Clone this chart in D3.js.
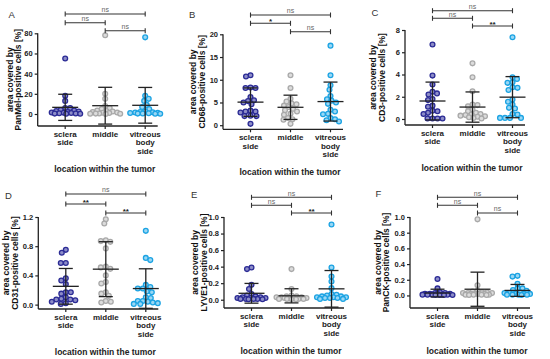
<!DOCTYPE html>
<html><head><meta charset="utf-8">
<script src="https://cdn.jsdelivr.net/npm/d3@7"></script>
<style>
body{margin:0;background:#fff}
svg{display:block}
text{font-family:"Liberation Sans",Arial,sans-serif}
</style>
</head><body>
<svg id="c" width="550" height="359"></svg>
<script>
// ---------- DATA ----------
const categories = ["sclera side", "middle", "vitreous body side"];
const categoryLines = [["sclera", "side"], ["middle"], ["vitreous", "body", "side"]];
const panelLetters = ["A", "B", "C", "D", "E", "F"];
const markerNames = ["PanMel", "CD68", "CD3", "CD31", "LYVE1", "PanCK"];
const xTitle = "location within the tumor";

const ticksA = [0, 20, 40, 60, 80];
const ticksB = [0, 5, 10, 15, 20];
const ticksC = [0, 2, 4, 6, 8];
const ticksD = [0, 0.4, 0.8, 1.2];
const ticksE = [0, 0.2, 0.4, 0.6, 0.8, 1.0];
const ticksF = [0, 0.2, 0.4, 0.6, 0.8, 1.0];

// values: [sclera side, middle, vitreous body side]
const panMel = [
  [55, 18, 13, 6, 6, 4, 3.5, 3, 2.5, 2, 1.5, 1.2, 1, 0.8, 0.5, 0.4, 0.3, 0.2],
  [78, 20, 15, 8, 6, 5, 3.5, 3, 2.5, 2, 1.5, 1.2, 1, 0.5, 0.4, 0.3, 0.2, 0.1],
  [76, 18, 15, 13, 9, 7, 5, 2.5, 2, 1.8, 1.5, 1.2, 1, 0.8, 0.5, 0.4, 0.3, 0.2]
];
const cd68 = [
  [11.0, 10.7, 8.3, 8.2, 8.2, 6.2, 5.5, 5.3, 5.0, 4.6, 3.2, 3.0, 3.0, 2.8, 2.1, 2.0, 2.0, 0.3],
  [11.0, 8.2, 5.8, 5.2, 4.8, 4.6, 4.3, 4.0, 3.6, 3.3, 3.0, 2.5, 2.3, 1.6, 1.3, 1.2, 0.3],
  [17.5, 11.0, 8.8, 7.8, 6.4, 5.7, 5.4, 5.0, 4.7, 3.4, 3.0, 2.5, 2.4, 1.6, 1.3, 1.1, 0.8]
];
const cd3 = [
  [6.7, 3.9, 3.1, 2.45, 2.3, 2.2, 1.8, 1.7, 1.2, 1.1, 0.75, 0.7, 0.55, 0.45, 0.05, 0.05, 0.05, 0.05],
  [5.0, 3.75, 2.5, 1.3, 1.25, 1.15, 0.85, 0.7, 0.55, 0.45, 0.4, 0.35, 0.3, 0.25, 0.2, 0.15, 0.1, 0.05],
  [7.35, 3.75, 3.6, 3.3, 3.25, 2.85, 2.8, 2.6, 1.75, 1.55, 1.3, 1.0, 0.95, 0.45, 0.4, 0.1, 0.1, 0.1, 0.1]
];
const cd31 = [
  [0.75, 0.71, 0.57, 0.57, 0.36, 0.33, 0.28, 0.17, 0.17, 0.15, 0.10, 0.08, 0.07, 0.07, 0.06, 0.04, 0.02, 0.01],
  [1.17, 1.11, 0.88, 0.87, 0.86, 0.77, 0.52, 0.51, 0.49, 0.40, 0.31, 0.29, 0.17, 0.15, 0.12, 0.05, 0.04, 0.03],
  [1.01, 0.64, 0.61, 0.27, 0.24, 0.22, 0.22, 0.18, 0.17, 0.10, 0.09, 0.05, 0.05, 0.04, 0.03, 0.02, 0.01, 0.01]
];
const lyve1 = [
  [0.39, 0.37, 0.18, 0.13, 0.07, 0.05, 0.04, 0.03, 0.03, 0.02, 0.02, 0.02, 0.01, 0.01, 0.01, 0.01, 0.005, 0.005],
  [0.37, 0.13, 0.05, 0.04, 0.04, 0.03, 0.03, 0.03, 0.02, 0.02, 0.02, 0.02, 0.01, 0.01, 0.01, 0.01, 0.005, 0.005],
  [0.91, 0.39, 0.28, 0.22, 0.14, 0.07, 0.06, 0.05, 0.04, 0.04, 0.03, 0.03, 0.03, 0.02, 0.02, 0.02, 0.01, 0.01]
];
const panCK = [
  [0.21, 0.09, 0.04, 0.03, 0.03, 0.02, 0.02, 0.02, 0.02, 0.01, 0.01, 0.01, 0.01, 0.01, 0.005, 0.005, 0.005, 0.005],
  [0.97, 0.13, 0.06, 0.05, 0.04, 0.04, 0.03, 0.03, 0.03, 0.02, 0.02, 0.02, 0.02, 0.01, 0.01, 0.01, 0.01, 0.005, 0.005],
  [0.25, 0.24, 0.15, 0.09, 0.09, 0.07, 0.06, 0.04, 0.03, 0.03, 0.02, 0.02, 0.02, 0.01, 0.01, 0.01, 0.01, 0.005]
];
// significance: [sclera–vitreous, sclera–middle, middle–vitreous]
const sigA = ["ns", "ns", "ns"];
const sigB = ["ns", "*", "ns"];
const sigC = ["ns", "ns", "**"];
const sigD = ["ns", "**", "**"];
const sigE = ["ns", "ns", "**"];
const sigF = ["ns", "ns", "ns"];

// ---------- LAYOUT / STYLE ----------
const strokeCol = ["#2b2b95", "#a9a9a9", "#1ba3e3"];
const fillCol = ["#8d8dc8", "#dcdcdc", "#9ad7f4"];

const panels = [
  {vals: panMel, ticks: ticksA, sig: sigA, fmt: d3.format("d"),
   left: 37.7, top: 33.3, bottom: 126, yMin: -11.9, yMax: 80, br: [14, 22.7, 30.7], letter: [8.5, 17.5], yt: [-24.8, -16.3]},
  {vals: cd68, ticks: ticksB, sig: sigB, fmt: d3.format("d"),
   left: 223, top: 34.3, bottom: 129.3, yMin: -0.9, yMax: 20, br: [15, 23.3, 31.7], letter: [189, 17.5], yt: [-27, -17.7]},
  {vals: cd3, ticks: ticksC, sig: sigC, fmt: d3.format("d"),
   left: 405, top: 30, bottom: 125, yMin: -0.54, yMax: 8, br: [10.7, 18.3, 26], letter: [371.5, 16], yt: [-29.5, -20.5]},
  {vals: cd31, ticks: ticksD, sig: sigD, fmt: d3.format(".1f"),
   left: 38.3, top: 217, bottom: 309, yMin: -0.06, yMax: 1.2, br: [194, 204, 213], letter: [5, 198.5], yt: [-29, -20]},
  {vals: lyve1, ticks: ticksE, sig: sigE, fmt: d3.format(".1f"),
   left: 224, top: 217, bottom: 308, yMin: -0.1, yMax: 1.0, br: [197.3, 205.3, 213], letter: [191, 198], yt: [-26, -17]},
  {vals: panCK, ticks: ticksF, sig: sigF, fmt: d3.format(".1f"),
   left: 410, top: 217, bottom: 308, yMin: -0.16, yMax: 1.0, br: [197.3, 205.3, 213], letter: [375.5, 196.5], yt: [-29, -21]}
];

const svg = d3.select("#c");

// simple beeswarm with a limited half-width; overlap allowed when no free slot
function swarm(vals, y, minD, maxW) {
  const pts = vals.map(v => ({v, py: y(v)})).sort((a, b) => a.py - b.py);
  const placed = [];
  const cands = [0];
  for (let k = 1; k * 0.5 <= maxW; k++) cands.push(k * 0.5, -k * 0.5);
  pts.forEach((p, i) => {
    let chosen = null, bestScore = -1, bestO = 0;
    for (const o0 of cands) {
      const o = (i % 2) ? -o0 : o0;
      let md = Infinity;
      for (const q of placed) {
        const d = Math.hypot(q.ox - o, q.py - p.py);
        if (d < md) md = d;
      }
      if (md >= minD) { chosen = o; break; }
      if (md > bestScore + 0.05) { bestScore = md; bestO = o; }
    }
    p.ox = chosen !== null ? chosen : bestO;
    placed.push(p);
  });
  return pts;
}

panels.forEach((P, pi) => {
  const g = svg.append("g");
  const W = 120;
  const x = d3.scalePoint().domain(categories).range([P.left + 27.5, P.left + 107.5]);
  const y = d3.scaleLinear().domain([P.yMin, P.yMax]).range([P.bottom, P.top]);

  // y axis
  const ya = d3.axisLeft(y).tickValues(P.ticks).tickFormat(P.fmt).tickSize(3).tickPadding(2);
  const yg = g.append("g").attr("transform", `translate(${P.left},0)`).call(ya);
  yg.select(".domain").remove();
  yg.selectAll(".tick line").attr("stroke", "#222").attr("stroke-width", 1.2);
  yg.selectAll(".tick text").attr("font-size", 7.5).attr("font-weight", "bold").attr("fill", "#222")
    .attr("font-family", '"Liberation Sans",Arial,sans-serif');
  g.append("line").attr("x1", P.left).attr("x2", P.left).attr("y1", y(P.yMax)).attr("y2", P.bottom)
    .attr("stroke", "#222").attr("stroke-width", 1.3);

  // x axis
  g.append("line").attr("x1", P.left).attr("x2", P.left + W).attr("y1", P.bottom).attr("y2", P.bottom)
    .attr("stroke", "#222").attr("stroke-width", 1.3);
  categories.forEach((c, ci) => {
    const cx = x(c);
    g.append("line").attr("x1", cx).attr("x2", cx).attr("y1", P.bottom).attr("y2", P.bottom + 3)
      .attr("stroke", "#222").attr("stroke-width", 1.2);
    categoryLines[ci].forEach((ln, li) => {
      g.append("text").attr("x", cx).attr("y", P.bottom + 11 + li * 8.3).attr("text-anchor", "middle")
        .attr("font-size", 8).attr("font-weight", "bold").attr("fill", "#222").text(ln);
    });
  });
  g.append("text").attr("x", P.left + 67).attr("y", P.bottom + 46).attr("text-anchor", "middle")
    .attr("font-size", 8.5).attr("font-weight", "bold").attr("fill", "#222").text(xTitle);

  // y title
  const yc = (P.top + P.bottom) / 2;
  const ylines = ["area covered by", markerNames[pi] + "-positive cells [%]"];
  ylines.forEach((ln, li) => {
    const tx = P.left + P.yt[li];
    g.append("text").attr("transform", `translate(${tx},${yc}) rotate(-90)`).attr("text-anchor", "middle")
      .attr("font-size", 8.5).attr("font-weight", "bold").attr("fill", "#111").text(ln);
  });

  // panel letter
  g.append("text").attr("x", P.letter[0]).attr("y", P.letter[1]).attr("font-size", 9.5).attr("fill", "#333")
    .text(panelLetters[pi]);

  // points
  P.vals.forEach((vals, ci) => {
    const cx = x(categories[ci]);
    const pts = swarm(vals, y, 4.6, 15);
    g.append("g").selectAll("circle").data(pts).join("circle")
      .attr("cx", d => cx + d.ox).attr("cy", d => d.py).attr("r", 2.4)
      .attr("fill", fillCol[ci]).attr("stroke", strokeCol[ci]).attr("stroke-width", 1.3);
  });

  // mean ± SD
  P.vals.forEach((vals, ci) => {
    const cx = x(categories[ci]);
    const m = d3.mean(vals), s = d3.deviation(vals);
    const e = g.append("g").attr("stroke", "#222").attr("stroke-width", 1.3);
    e.append("line").attr("x1", cx).attr("x2", cx).attr("y1", y(m + s)).attr("y2", Math.min(y(m - s), P.bottom));
    e.append("line").attr("x1", cx - 13).attr("x2", cx + 13).attr("y1", y(m)).attr("y2", y(m));
    e.append("line").attr("x1", cx - 7).attr("x2", cx + 7).attr("y1", y(m + s)).attr("y2", y(m + s));
    if (y(m - s) <= P.bottom + 0.5)
      e.append("line").attr("x1", cx - 7).attr("x2", cx + 7).attr("y1", y(m - s)).attr("y2", y(m - s));
  });

  // significance brackets
  const pairs = [[0, 2], [0, 1], [1, 2]];
  pairs.forEach((pr, k) => {
    const x1 = x(categories[pr[0]]), x2 = x(categories[pr[1]]), by = P.br[k];
    const b = g.append("g").attr("stroke", "#333").attr("stroke-width", 1.1);
    b.append("line").attr("x1", x1).attr("x2", x2).attr("y1", by).attr("y2", by);
    b.append("line").attr("x1", x1).attr("x2", x1).attr("y1", by - 2.5).attr("y2", by + 2.5);
    b.append("line").attr("x1", x2).attr("x2", x2).attr("y1", by - 2.5).attr("y2", by + 2.5);
    const lab = P.sig[k];
    const isNs = lab === "ns";
    g.append("text").attr("x", (x1 + x2) / 2).attr("y", isNs ? by - 1.8 : by + 0.8).attr("text-anchor", "middle")
      .attr("font-size", isNs ? 7 : 8).attr("font-weight", isNs ? "normal" : "bold")
      .attr("fill", isNs ? "#666" : "#222").text(lab);
  });
});
</script>
</body></html>
